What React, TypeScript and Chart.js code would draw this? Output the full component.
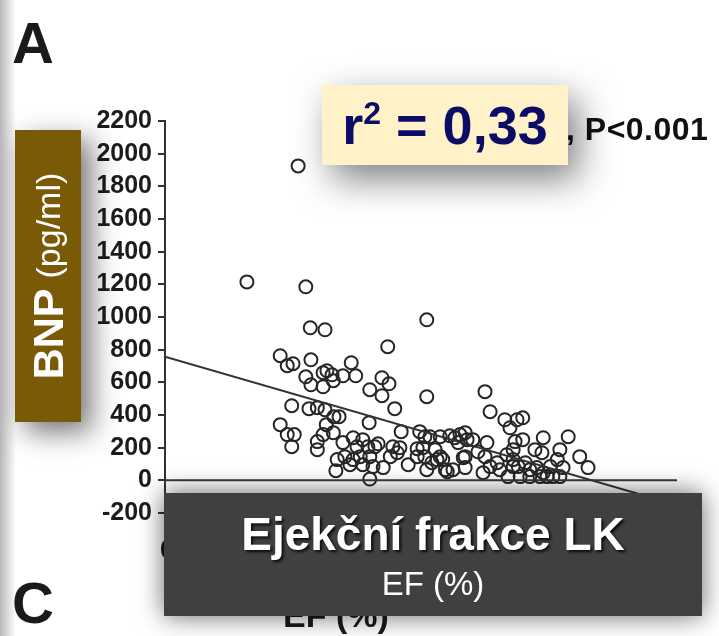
import React, { useEffect, useRef } from "react";
import { Chart, registerables } from "chart.js";

Chart.register(...registerables);

// Ejection fraction (%) of each patient
const efValues = [
  20.8, 12.8, 22.0, 22.7, 25.0, 40.9, 34.8, 18.0, 19.1, 20.0,
  22.8, 29.1, 22.0, 22.8, 24.7, 25.3, 26.1, 26.3, 24.7, 27.8,
  29.8, 32.0, 33.9, 35.0, 33.9, 35.9, 40.9, 19.8, 22.5, 23.8,
  25.0, 26.4, 27.2, 18.0, 19.1, 20.2, 19.8, 23.8, 23.8, 25.2,
  24.7, 26.3, 31.9, 36.9, 39.8, 40.6, 41.4, 27.8, 29.4, 30.0,
  30.9, 31.7, 32.8, 33.3, 35.6, 36.7, 39.4, 40.3, 26.9, 26.7,
  28.1, 28.9, 29.4, 30.5, 30.9, 32.0, 32.5, 32.0, 34.1, 35.2,
  36.3, 38.0, 39.4, 40.9, 41.7, 43.0, 44.5, 45.3, 46.1, 46.9,
  47.2, 43.0, 44.1, 45.0, 46.9, 46.9, 50.0, 50.8, 53.1, 53.9,
  55.0, 42.2, 40.6, 42.5, 43.4, 43.8, 48.1, 45.8, 46.6, 48.9,
  50.3, 50.0, 50.8, 49.7, 51.9, 52.3, 53.4, 54.4, 54.4, 53.6,
  55.9, 54.7, 55.9, 59.1, 63.0, 57.8, 58.9, 61.7, 64.8, 66.1,
  54.4, 55.2, 56.3, 57.0, 58.1, 59.1, 60.2, 61.3, 62.2, 61.7,
  59.7, 60.6, 55.5, 57.0, 58.6,
];

// BNP (pg/ml) of each patient
const bnpValues = [
  1925, 1215, 1185, 934, 922, 983, 818, 763, 702, 714,
  738, 720, 634, 585, 659, 671, 646, 610, 573, 640,
  640, 555, 628, 591, 518, 439, 512, 457, 439, 445,
  432, 390, 390, 341, 280, 280, 206, 237, 188, 341,
  280, 292, 353, 298, 298, 267, 267, 231, 261, 206,
  249, 206, 206, 224, 206, 200, 194, 200, 127, 59,
  145, 96, 127, 145, 96, 145, 84, 8, 78, 145,
  169, 96, 145, 65, 108, 267, 273, 261, 280, 292,
  249, 145, 53, 65, 145, 78, 543, 420, 371, 322,
  371, 188, 145, 127, 127, 65, 249, 231, 139, 175,
  231, 145, 84, 47, 108, 65, 157, 188, 84, 23,
  383, 237, 249, 261, 267, 188, 169, 188, 145, 78,
  127, 84, 108, 65, 78, 47, 84, 127, 78, 23,
  23, 23, 23, 23, 23,
];

// Regression line end points
const regressionEF = [0, 80];
const regressionBNP = [757, -151];

// Zero reference line
const zeroLineEF = [0, 80];
const zeroLineBNP = [0, 0];

// Axis ranges
const yMin = -200;
const yMax = 2200;
const yStep = 200;
const xMin = 0;
const xMax = 80;

const FONT = "'Liberation Sans', Arial, Helvetica, sans-serif";

export default function App() {
  const canvasRef = useRef<HTMLCanvasElement | null>(null);

  useEffect(() => {
    const canvas = canvasRef.current;
    if (!canvas) return;
    const points = efValues.map((ef, i) => ({ x: ef, y: bnpValues[i] }));
    const regression = regressionEF.map((x, i) => ({ x, y: regressionBNP[i] }));
    const zeroLine = zeroLineEF.map((x, i) => ({ x, y: zeroLineBNP[i] }));

    const chart = new Chart(canvas, {
      type: "scatter",
      data: {
        datasets: [
          {
            label: "zero",
            data: zeroLine,
            showLine: true,
            pointRadius: 0,
            borderColor: "#3a3a3a",
            borderWidth: 2,
          },
          {
            label: "regression",
            data: regression,
            showLine: true,
            pointRadius: 0,
            borderColor: "#333333",
            borderWidth: 2,
          },
          {
            label: "BNP",
            data: points,
            pointRadius: 6.5,
            pointBorderWidth: 2,
            borderColor: "#262626",
            backgroundColor: "rgba(0,0,0,0)",
            pointBackgroundColor: "rgba(0,0,0,0)",
          },
        ],
      },
      options: {
        animation: false,
        responsive: false,
        maintainAspectRatio: false,
        layout: { padding: { left: 0, right: 42, top: 121, bottom: 123 } },
        plugins: {
          legend: { display: false },
          tooltip: { enabled: false },
        },
        scales: {
          x: { type: "linear", min: xMin, max: xMax, display: false },
          y: {
            type: "linear",
            min: yMin,
            max: yMax,
            ticks: {
              stepSize: yStep,
              autoSkip: false,
              padding: 6,
              color: "#1c1c1c",
              font: { family: FONT, size: 25, weight: "bold" },
              callback: (v: any) => String(v),
            },
            grid: {
              drawOnChartArea: false,
              drawTicks: true,
              tickLength: 7,
              color: "#333333",
              lineWidth: 2,
            },
            border: { display: true, color: "#333333", width: 2 },
            afterFit: (scale: any) => {
              scale.width = 165;
            },
          },
        },
      },
    });
    return () => chart.destroy();
  }, []);

  return (
    <div
      style={{
        position: "absolute",
        left: 0,
        top: 0,
        width: 719,
        height: 636,
        overflow: "hidden",
        background: "#ffffff",
        fontFamily: FONT,
      }}
    >
      {/* left edge scan shading */}
      <div
        style={{
          position: "absolute",
          left: 0,
          top: 0,
          width: 16,
          height: 636,
          background: "linear-gradient(to right, rgba(0,0,0,0.28), rgba(0,0,0,0))",
          zIndex: 0,
        }}
      />
      <canvas
        ref={canvasRef}
        width={719}
        height={636}
        style={{ position: "absolute", left: 0, top: 0, width: 719, height: 636, zIndex: 1 }}
      />

      {/* panel letters */}
      <div style={{ position: "absolute", left: 12, top: 14, fontSize: 58, fontWeight: "bold", color: "#1a1a1a", lineHeight: 1, zIndex: 2 }}>A</div>
      <div style={{ position: "absolute", left: 12, top: 574, fontSize: 58, fontWeight: "bold", color: "#1a1a1a", lineHeight: 1, zIndex: 2 }}>C</div>

      {/* hidden original axis labels */}
      <div style={{ position: "absolute", left: 160, top: 536, fontSize: 26, fontWeight: "bold", color: "#1a1a1a", lineHeight: 1, zIndex: 2 }}>0</div>
      <div style={{ position: "absolute", left: 283, top: 598, fontSize: 34, fontWeight: "bold", color: "#1a1a1a", lineHeight: 1, zIndex: 2 }}>EF (%)</div>

      {/* p value */}
      <div style={{ position: "absolute", left: 566, top: 113, fontSize: 32, fontWeight: "bold", color: "#111", lineHeight: 1, zIndex: 2, whiteSpace: "nowrap", letterSpacing: 0.5 }}>, P&lt;0.001</div>

      {/* BNP brown box */}
      <div
        style={{
          position: "absolute",
          left: 15,
          top: 130,
          width: 66,
          height: 292,
          background: "#7a5a06",
          boxShadow: "10px 10px 28px rgba(0,0,0,0.55)",
          zIndex: 3,
        }}
      >
        <div
          style={{
            position: "absolute",
            left: 33 - 146,
            top: 146 - 33,
            width: 292,
            height: 66,
            transform: "rotate(-90deg)",
            display: "flex",
            alignItems: "center",
            justifyContent: "center",
            color: "#ffffff",
            whiteSpace: "nowrap",
            lineHeight: 1,
          }}
        >
          <span style={{ fontSize: 43, fontWeight: "bold" }}>BNP</span>
          <span style={{ fontSize: 34, marginLeft: 10 }}>(pg/ml)</span>
        </div>
      </div>

      {/* r squared yellow box */}
      <div
        style={{
          position: "absolute",
          left: 322,
          top: 85,
          width: 246,
          height: 80,
          background: "#fff2c8",
          boxShadow: "10px 14px 36px rgba(0,0,0,0.5)",
          display: "flex",
          alignItems: "center",
          justifyContent: "center",
          color: "#0c0c66",
          fontWeight: "bold",
          fontSize: 54,
          lineHeight: 1,
          whiteSpace: "nowrap",
          zIndex: 3,
        }}
      >
        <span>
          r<span style={{ fontSize: 32, position: "relative", top: -20 }}>2</span> = 0,33
        </span>
      </div>

      {/* x axis dark box */}
      <div
        style={{
          position: "absolute",
          left: 164,
          top: 493,
          width: 538,
          height: 123,
          background: "#404040",
          boxShadow: "0 0 24px rgba(0,0,0,0.6)",
          color: "#ffffff",
          textAlign: "center",
          zIndex: 3,
        }}
      >
        <div style={{ position: "absolute", left: 0, right: 0, top: 18, fontSize: 46, fontWeight: "bold", lineHeight: 1, textShadow: "2px 2px 3px rgba(0,0,0,0.85)", whiteSpace: "nowrap" }}>
          Ejekční frakce LK
        </div>
        <div style={{ position: "absolute", left: 0, right: 0, top: 74, fontSize: 33, lineHeight: 1, whiteSpace: "nowrap" }}>
          EF (%)
        </div>
      </div>
    </div>
  );
}
